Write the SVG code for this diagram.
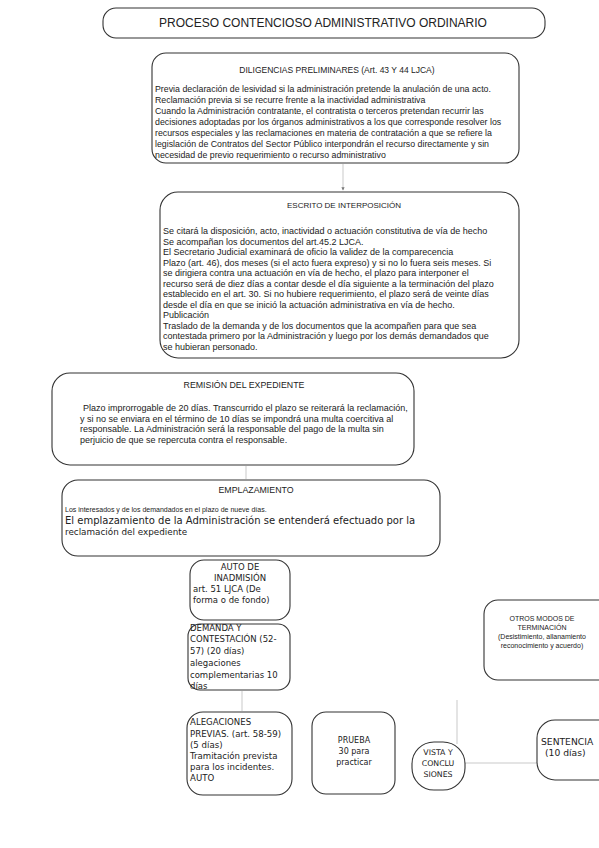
<svg xmlns="http://www.w3.org/2000/svg" width="599" height="848" viewBox="0 0 599 848">
<style>
.box{fill:#fff;stroke:#333;stroke-width:1.1}
.t{font-family:"Liberation Sans",Arial,sans-serif;fill:#222}
.v{font-family:"DejaVu Sans",Verdana,sans-serif;fill:#222}
.c{stroke:#bbb;stroke-width:0.8;fill:none}
.h{text-anchor:middle}
</style>
<defs>
<marker id="ah" viewBox="0 0 6 6" refX="5" refY="3" markerWidth="4" markerHeight="4" orient="auto">
<path d="M0,0 L6,3 L0,6 z" fill="#777"/>
</marker>
</defs>
<rect width="599" height="848" fill="#fff"/>
<g id="connectors">
<line class="c" x1="343" y1="164" x2="343" y2="190" marker-end="url(#ah)"/>
<line class="c" x1="246" y1="466" x2="246" y2="479"/>
<line class="c" x1="242" y1="691" x2="242" y2="711"/>
<line class="c" x1="457" y1="700" x2="457" y2="744"/>
<line class="c" x1="465" y1="763" x2="537" y2="763"/>
</g>
<g id="title">
<rect class="box" x="103" y="8" width="442" height="30" rx="13"/>
<text class="t h" x="323" y="27" font-size="12">PROCESO CONTENCIOSO ADMINISTRATIVO ORDINARIO</text>
</g>
<g id="diligencias">
<rect class="box" x="152" y="53" width="367" height="110" rx="14"/>
<text class="t h" x="337" y="73" font-size="8.5">DILIGENCIAS PRELIMINARES (Art. 43 Y 44 LJCA)</text>
<g class="t" font-size="8.8">
<text x="155" y="92">Previa declaración de lesividad si la administración pretende la anulación de una acto.</text>
<text x="155" y="103">Reclamación previa si se recurre frente a la inactividad administrativa</text>
<text x="155" y="114">Cuando la Administración contratante, el contratista o terceros pretendan recurrir las</text>
<text x="155" y="125">decisiones adoptadas por los órganos administrativos a los que corresponde resolver los</text>
<text x="155" y="136">recursos especiales y las reclamaciones en materia de contratación a que se refiere la</text>
<text x="155" y="147">legislación de Contratos del Sector Público interpondrán el recurso directamente y sin</text>
<text x="155" y="158">necesidad de previo requerimiento o recurso administrativo</text>
</g>
</g>
<g id="escrito">
<rect class="box" x="160" y="192" width="359" height="166" rx="18"/>
<text class="t h" x="344" y="208" font-size="8">ESCRITO DE INTERPOSICIÓN</text>
<g class="t" font-size="9">
<text x="163" y="234">Se citará la disposición, acto, inactividad o actuación constitutiva de vía de hecho</text>
<text x="163" y="244.5">Se acompañan los documentos del art.45.2 LJCA.</text>
<text x="163" y="255">El Secretario Judicial examinará de oficio la validez de la comparecencia</text>
<text x="163" y="265.5">Plazo (art. 46), dos meses (si el acto fuera expreso) y si no lo fuera seis meses. Si</text>
<text x="163" y="276">se dirigiera contra una actuación en vía de hecho, el plazo para interponer el</text>
<text x="163" y="286.5">recurso será de diez días a contar desde el día siguiente a la terminación del plazo</text>
<text x="163" y="297">establecido en el art. 30. Si no hubiere requerimiento, el plazo será de veinte días</text>
<text x="163" y="307.5">desde el día en que se inició la actuación administrativa en vía de hecho.</text>
<text x="163" y="318">Publicación</text>
<text x="163" y="328.5">Traslado de la demanda y de los documentos que la acompañen para que sea</text>
<text x="163" y="339">contestada primero por la Administración y luego por los demás demandados que</text>
<text x="163" y="349.5">se hubieran personado.</text>
</g>
</g>
<g id="remision">
<rect class="box" x="52" y="373" width="362" height="92" rx="18"/>
<text class="t h" x="244" y="388" font-size="8.8">REMISIÓN DEL EXPEDIENTE</text>
<g class="t" font-size="9">
<text x="83" y="411">Plazo improrrogable de 20 días. Transcurrido el plazo se reiterará la reclamación,</text>
<text x="80" y="421.5">y si no se enviara en el término de 10 días se impondrá una multa coercitiva al</text>
<text x="80" y="432">responsable. La Administración será la responsable del pago de la multa sin</text>
<text x="80" y="442.5">perjuicio de que se repercuta contra el responsable.</text>
</g>
</g>
<g id="emplazamiento">
<rect class="box" x="62" y="480" width="378" height="76" rx="16"/>
<text class="t h" x="256" y="493" font-size="8.8">EMPLAZAMIENTO</text>
<text class="t" x="65" y="512" font-size="7">Los interesados y de los demandados en el plazo de nueve días.</text>
<text class="v" x="65" y="524" font-size="10">El emplazamiento de la Administración se entenderá efectuado por la</text>
<text class="v" x="65" y="535" font-size="8.8">reclamación del expediente</text>
</g>
<g id="auto-inadmision">
<rect class="box" x="190" y="560" width="100" height="60" rx="14"/>
<g class="v" font-size="8.5">
<text class="h" x="240" y="570">AUTO DE</text>
<text class="h" x="240" y="581">INADMISIÓN</text>
<text x="193" y="592">art. 51 LJCA (De</text>
<text x="193" y="603">forma o de fondo)</text>
</g>
</g>
<g id="demanda">
<rect class="box" x="188" y="624" width="102" height="66" rx="12"/>
<g class="v" font-size="8.5">
<text x="190" y="631">DEMANDA Y</text>
<text x="190" y="642">CONTESTACIÓN  (52-</text>
<text x="190" y="654">57) (20 días)</text>
<text x="190" y="666">alegaciones</text>
<text x="190" y="678">complementarias 10</text>
<text x="190" y="689">días</text>
</g>
</g>
<g id="alegaciones">
<rect class="box" x="187" y="712" width="105" height="83" rx="16"/>
<g class="v" font-size="8.6">
<text x="190" y="725">ALEGACIONES</text>
<text x="190" y="737">PREVIAS. (art. 58-59)</text>
<text x="190" y="748">(5 días)</text>
<text x="190" y="759">Tramitación prevista</text>
<text x="190" y="770">para los incidentes.</text>
<text x="190" y="781">AUTO</text>
</g>
</g>
<g id="prueba">
<rect class="box" x="312" y="712" width="83" height="82" rx="14"/>
<g class="v h" font-size="8">
<text x="354" y="743">PRUEBA</text>
<text x="354" y="754">30 para</text>
<text x="354" y="765">practicar</text>
</g>
</g>
<g id="vista">
<rect class="box" x="412" y="742" width="53" height="48" rx="22"/>
<g class="v h" font-size="7.8">
<text x="438" y="755">VISTA Y</text>
<text x="438" y="766">CONCLU</text>
<text x="438" y="777">SIONES</text>
</g>
</g>
<g id="otros-modos">
<rect class="box" x="484" y="600" width="130" height="80" rx="14"/>
<g class="t h" font-size="7">
<text x="542" y="621">OTROS MODOS DE</text>
<text x="542" y="630">TERMINACIÓN</text>
<text x="542" y="639">(Desistimiento, allanamiento</text>
<text x="542" y="648">reconocimiento y acuerdo)</text>
</g>
</g>
<g id="sentencia">
<rect class="box" x="537" y="720" width="80" height="60" rx="18"/>
<g class="v" font-size="9.2">
<text x="541" y="745">SENTENCIA</text>
<text x="545" y="756">(10 días)</text>
</g>
</g>
</svg>
